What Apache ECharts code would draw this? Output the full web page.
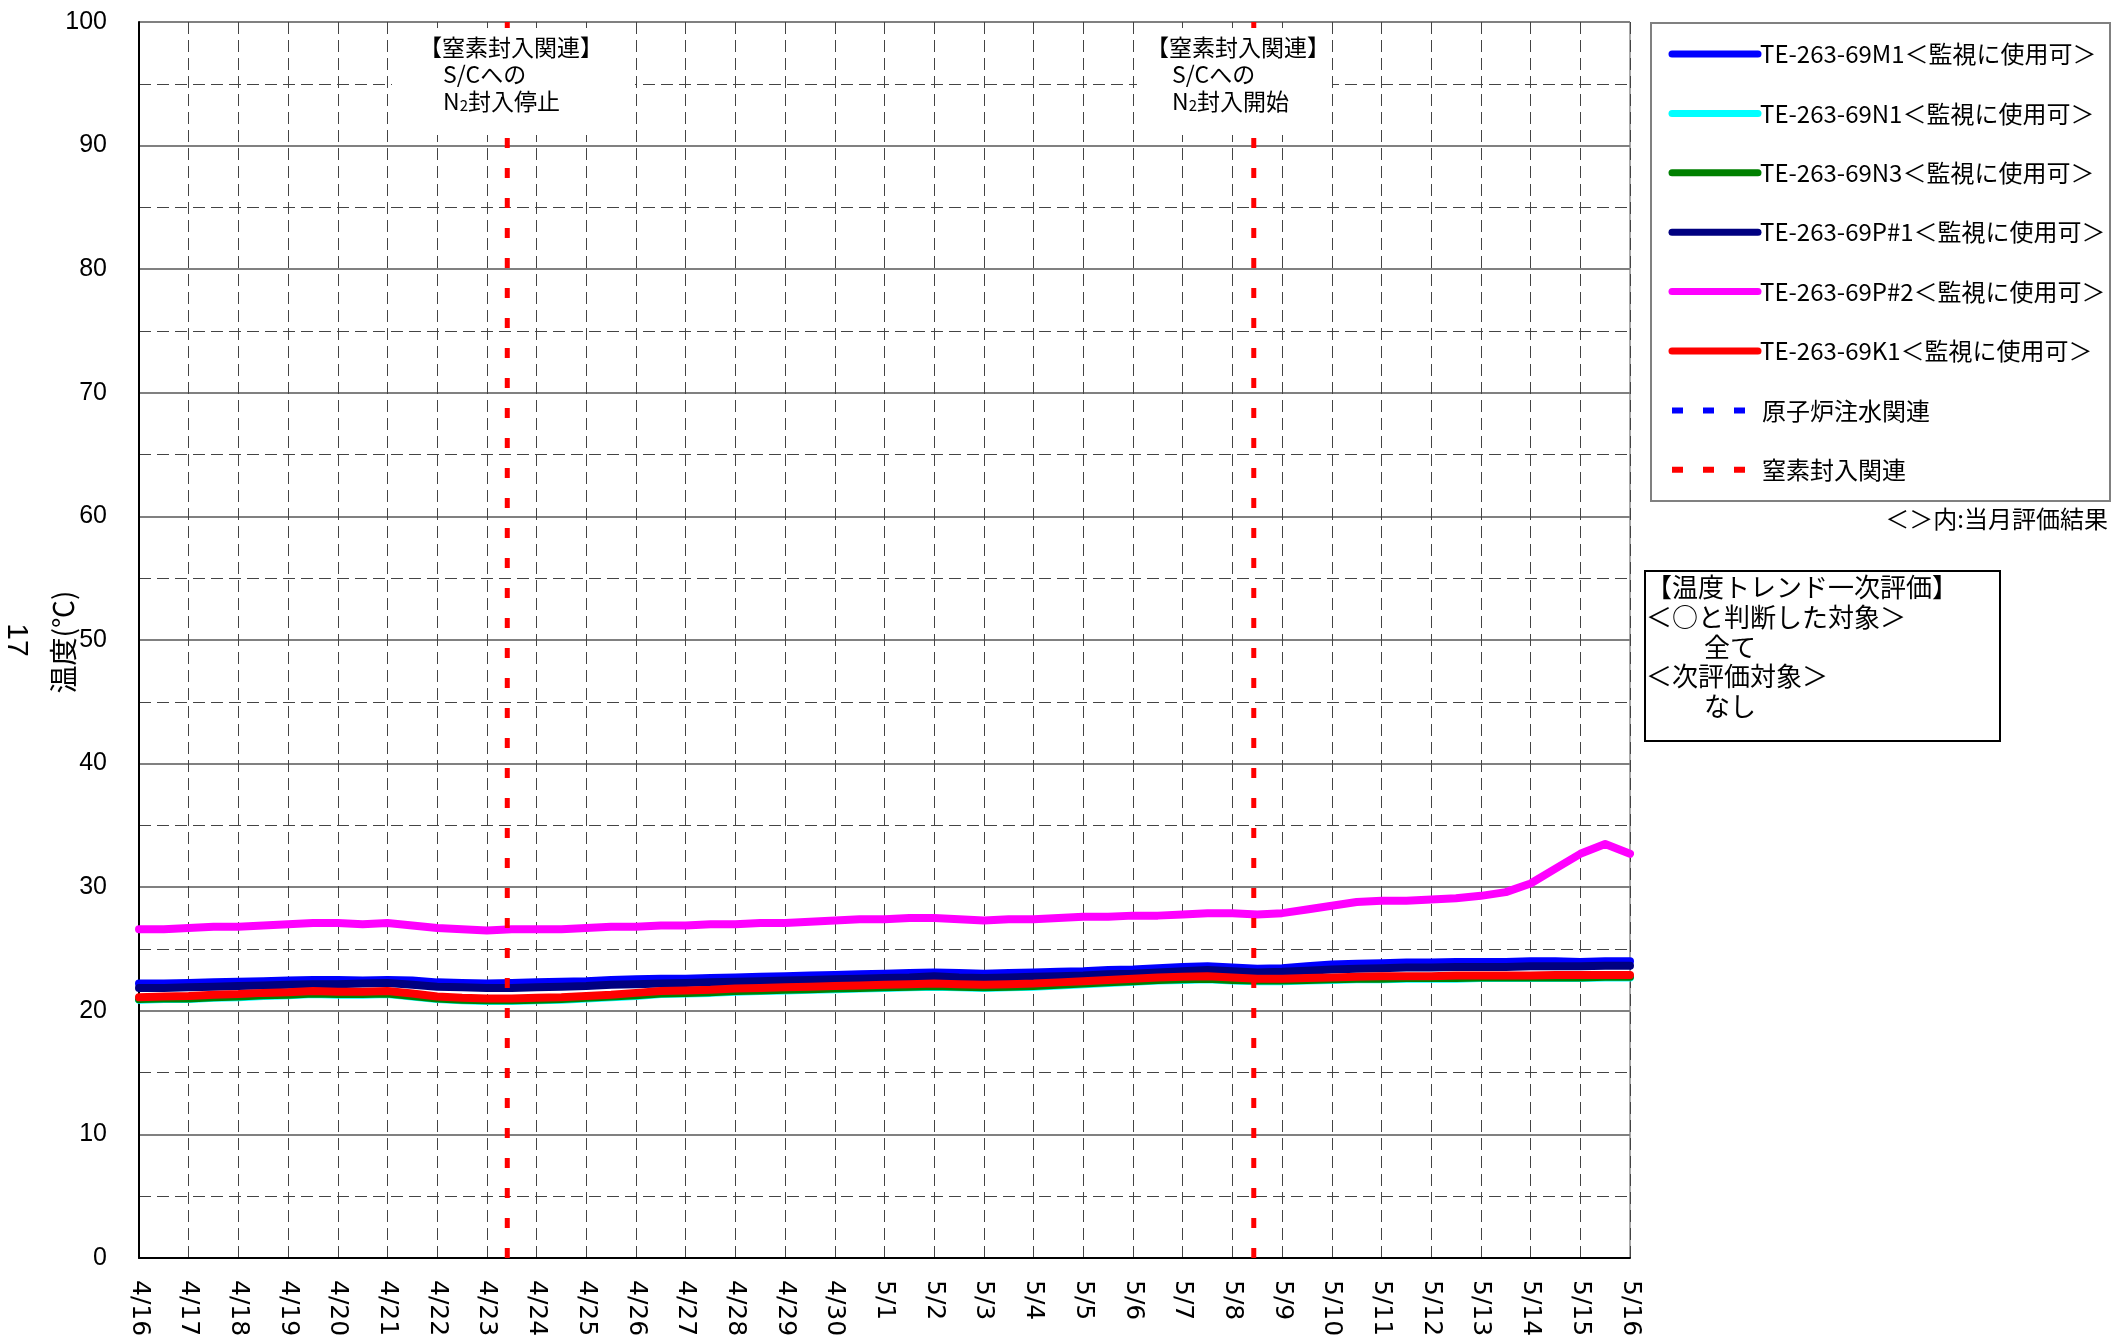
<!DOCTYPE html>
<html>

	<head>
		<meta charset="UTF-8">
		<title>温度トレンド</title>
		<script src="https://cdn.jsdelivr.net/npm/echarts@6/dist/echarts.min.js"></script>
		<style>
			html,
			body {
				margin: 0;
				padding: 0;
				background: #fff;
			}
			
			#main {
				width: 2112px;
				height: 1343px;
			}
		</style>
	</head>

	<body>
		<div id="main"></div>
		<script type="text/javascript">
			// 横軸ラベル（4/16 0:00 = 0日目）
			var dayLabels = ['4/16', '4/17', '4/18', '4/19', '4/20', '4/21', '4/22', '4/23', '4/24', '4/25', '4/26', '4/27', '4/28', '4/29', '4/30',
				'5/1', '5/2', '5/3', '5/4', '5/5', '5/6', '5/7', '5/8', '5/9', '5/10', '5/11', '5/12', '5/13', '5/14', '5/15', '5/16'
			];
			// サンプル時刻（日数、12時間毎）
			var sampleDays = [0, 0.5, 1, 1.5, 2, 2.5, 3, 3.5, 4, 4.5, 5, 5.5, 6, 6.5, 7, 7.5, 8, 8.5, 9, 9.5,
				10, 10.5, 11, 11.5, 12, 12.5, 13, 13.5, 14, 14.5, 15, 15.5, 16, 16.5, 17, 17.5, 18, 18.5, 19, 19.5,
				20, 20.5, 21, 21.5, 22, 22.5, 23, 23.5, 24, 24.5, 25, 25.5, 26, 26.5, 27, 27.5, 28, 28.5, 29, 29.5, 30
			];
			var tempM1 = [22.2, 22.2, 22.25, 22.3, 22.35, 22.4, 22.45, 22.5, 22.5, 22.45, 22.5, 22.45, 22.3, 22.25, 22.2, 22.25, 22.3, 22.35, 22.4, 22.5,
				22.55, 22.6, 22.6, 22.65, 22.7, 22.75, 22.8, 22.85, 22.9, 22.95, 23.0, 23.05, 23.1, 23.05, 23.0, 23.05, 23.1, 23.15, 23.2, 23.3,
				23.35, 23.45, 23.55, 23.6, 23.5, 23.4, 23.45, 23.6, 23.75, 23.8, 23.85, 23.9, 23.9, 23.95, 23.95, 23.95, 24.0, 24.0, 23.95, 24.0, 24.0
			];
			var tempN1 = [20.9, 20.95, 20.95, 21.05, 21.1, 21.2, 21.25, 21.35, 21.3, 21.3, 21.35, 21.15, 20.95, 20.85, 20.8, 20.8, 20.85, 20.9, 21.0, 21.1,
				21.2, 21.35, 21.4, 21.45, 21.55, 21.6, 21.65, 21.7, 21.75, 21.8, 21.85, 21.9, 21.95, 21.9, 21.85, 21.9, 21.95, 22.05, 22.15, 22.25,
				22.35, 22.45, 22.5, 22.55, 22.45, 22.4, 22.4, 22.45, 22.5, 22.55, 22.55, 22.6, 22.6, 22.6, 22.65, 22.65, 22.65, 22.65, 22.65, 22.7, 22.7
			];
			var tempN3 = [20.95, 21.0, 21.0, 21.1, 21.15, 21.25, 21.3, 21.4, 21.35, 21.35, 21.4, 21.2, 21.0, 20.9, 20.85, 20.85, 20.9, 20.95, 21.05, 21.15,
				21.25, 21.4, 21.45, 21.5, 21.6, 21.65, 21.7, 21.75, 21.8, 21.85, 21.9, 21.95, 22.0, 21.95, 21.9, 21.95, 22.0, 22.1, 22.2, 22.3,
				22.4, 22.5, 22.55, 22.6, 22.5, 22.45, 22.45, 22.5, 22.55, 22.6, 22.6, 22.65, 22.65, 22.65, 22.7, 22.7, 22.7, 22.7, 22.7, 22.75, 22.75
			];
			var tempP1 = [21.85, 21.85, 21.9, 21.95, 22.0, 22.05, 22.1, 22.15, 22.15, 22.2, 22.25, 22.1, 21.95, 21.9, 21.85, 21.85, 21.9, 21.95, 22.0, 22.1,
				22.15, 22.2, 22.25, 22.3, 22.35, 22.4, 22.45, 22.5, 22.55, 22.6, 22.65, 22.7, 22.8, 22.7, 22.65, 22.7, 22.75, 22.8, 22.85, 22.95,
				23.0, 23.1, 23.2, 23.3, 23.2, 23.1, 23.15, 23.25, 23.35, 23.4, 23.45, 23.5, 23.5, 23.55, 23.55, 23.55, 23.6, 23.6, 23.6, 23.65, 23.65
			];
			var tempP2 = [26.6, 26.6, 26.7, 26.8, 26.8, 26.9, 27.0, 27.1, 27.1, 27.0, 27.1, 26.9, 26.7, 26.6, 26.5, 26.6, 26.6, 26.6, 26.7, 26.8,
				26.8, 26.9, 26.9, 27.0, 27.0, 27.1, 27.1, 27.2, 27.3, 27.4, 27.4, 27.5, 27.5, 27.4, 27.3, 27.4, 27.4, 27.5, 27.6, 27.6,
				27.7, 27.7, 27.8, 27.9, 27.9, 27.8, 27.9, 28.2, 28.5, 28.8, 28.9, 28.9, 29.0, 29.1, 29.3, 29.6, 30.3, 31.5, 32.7, 33.5, 32.7
			];
			var tempK1 = [21.1, 21.15, 21.2, 21.3, 21.35, 21.45, 21.5, 21.6, 21.55, 21.55, 21.6, 21.4, 21.15, 21.05, 21.0, 21.0, 21.05, 21.1, 21.2, 21.3,
				21.45, 21.6, 21.65, 21.7, 21.8, 21.85, 21.9, 21.95, 22.0, 22.05, 22.1, 22.15, 22.2, 22.15, 22.1, 22.15, 22.2, 22.3, 22.4, 22.5,
				22.6, 22.7, 22.75, 22.8, 22.7, 22.6, 22.6, 22.65, 22.7, 22.75, 22.8, 22.8, 22.8, 22.85, 22.85, 22.85, 22.85, 22.9, 22.9, 22.9, 22.9
			];
			// 窒素封入関連イベント（日数）
			var n2Events = [7.41, 22.43];

			var seriesNames = ['TE-263-69M1＜監視に使用可＞', 'TE-263-69N1＜監視に使用可＞', 'TE-263-69N3＜監視に使用可＞',
				'TE-263-69P#1＜監視に使用可＞', 'TE-263-69P#2＜監視に使用可＞', 'TE-263-69K1＜監視に使用可＞'
			];
			var seriesColors = ['#0000ff', '#00ffff', '#008000', '#000080', '#ff00ff', '#ff0000'];
			var seriesValues = [tempM1, tempN1, tempN3, tempP1, tempP2, tempK1];

			var jpFont = '"Noto Sans CJK JP", "Noto Sans", sans-serif';
			var numFont = '"Liberation Sans", Arial, sans-serif';

			function pairs(vals) {
				var out = [];
				for(var i = 0; i < vals.length; i++) {
					out.push([sampleDays[i], vals[i]]);
				}
				return out;
			}

			var series = [];
			for(var s = 0; s < seriesValues.length; s++) {
				series.push({
					name: seriesNames[s],
					type: 'line',
					data: pairs(seriesValues[s]),
					symbol: 'none',
					smooth: false,
					lineStyle: {
						color: seriesColors[s],
						width: 8,
						cap: 'round',
						join: 'round'
					},
					z: 3
				});
			}
			// 窒素封入関連の縦線
			for(var e = 0; e < n2Events.length; e++) {
				series.push({
					name: '窒素封入関連',
					type: 'line',
					data: [
						[n2Events[e], 0],
						[n2Events[e], 100]
					],
					symbol: 'none',
					lineStyle: {
						color: '#ff0000',
						width: 5,
						type: [10, 20],
						cap: 'butt'
					},
					z: 4
				});
			}

			var graphics = [];
			// 注記ボックス
			function noteBox(x, w, cx, lx, last) {
				graphics.push({
					type: 'rect',
					z: 100,
					shape: { x: x, y: 28, width: w, height: 107 },
					style: { fill: '#fff' }
				});
				graphics.push({
					type: 'text',
					z: 101,
					x: cx,
					y: 47,
					style: { text: '【窒素封入関連】', font: '23px ' + jpFont, fill: '#000', align: 'center', verticalAlign: 'middle' }
				});
				graphics.push({
					type: 'text',
					z: 101,
					x: lx,
					y: 74,
					style: { text: 'S/Cへの', font: '23px ' + jpFont, fill: '#000', align: 'left', verticalAlign: 'middle' }
				});
				graphics.push({
					type: 'text',
					z: 101,
					x: lx,
					y: 101,
					style: {
						text: 'N{sub|2}' + last,
						font: '23px ' + jpFont,
						fill: '#000',
						align: 'left',
						verticalAlign: 'middle',
						rich: {
							sub: { fontSize: 15, fontFamily: jpFont, verticalAlign: 'bottom', padding: [9, 0, 0, 0] }
						}
					}
				});
			}
			noteBox(392, 243, 511, 443, '封入停止');
			noteBox(1137, 195, 1238, 1172, '封入開始');

			// 凡例
			graphics.push({
				type: 'rect',
				z: 100,
				shape: { x: 1651, y: 23, width: 459, height: 478 },
				style: { fill: '#fff', stroke: '#808080', lineWidth: 2 }
			});
			var legendNames = seriesNames.concat(['原子炉注水関連', '窒素封入関連']);
			var legendColors = seriesColors.concat(['#0000ff', '#ff0000']);
			for(var k = 0; k < legendNames.length; k++) {
				var ly = 54 + k * 59.4;
				var dashed = k >= seriesNames.length;
				graphics.push({
					type: 'line',
					z: 101,
					shape: { x1: 1672, y1: ly, x2: dashed ? 1745 : 1758, y2: ly },
					style: {
						stroke: legendColors[k],
						lineWidth: dashed ? 6 : 7,
						lineCap: dashed ? 'butt' : 'round',
						lineDash: dashed ? [11, 20] : null
					}
				});
				graphics.push({
					type: 'text',
					z: 101,
					x: dashed ? 1762 : 1760,
					y: ly,
					style: { text: legendNames[k], font: '24px ' + jpFont, fill: '#000', align: 'left', verticalAlign: 'middle' }
				});
			}
			graphics.push({
				type: 'text',
				z: 101,
				x: 2108,
				y: 519,
				style: { text: '＜＞内:当月評価結果', font: '24px ' + jpFont, fill: '#000', align: 'right', verticalAlign: 'middle' }
			});

			// 評価ボックス
			graphics.push({
				type: 'rect',
				z: 100,
				shape: { x: 1645, y: 571, width: 355, height: 170 },
				style: { fill: '#fff', stroke: '#000', lineWidth: 2 }
			});
			var evalLines = ['【温度トレンド一次評価】', '＜○と判断した対象＞', '全て', '＜次評価対象＞', 'なし'];
			var evalY = [587, 617, 647, 676, 706];
			var evalX = [1646, 1646, 1704, 1646, 1704];
			for(var j = 0; j < evalLines.length; j++) {
				graphics.push({
					type: 'text',
					z: 101,
					x: evalX[j],
					y: evalY[j],
					style: { text: evalLines[j], font: '26px ' + jpFont, fill: '#000', align: 'left', verticalAlign: 'middle' }
				});
			}

			// 縦軸タイトル
			graphics.push({
				type: 'text',
				z: 101,
				x: 63,
				y: 642,
				rotation: Math.PI / 2,
				style: { text: '温度(℃)', font: '28px ' + jpFont, fill: '#000', align: 'center', verticalAlign: 'middle' }
			});
			graphics.push({
				type: 'text',
				z: 101,
				x: 16,
				y: 640,
				rotation: -Math.PI / 2,
				style: { text: '17', font: '30px ' + numFont, fill: '#000', align: 'center', verticalAlign: 'middle' }
			});

			var chart = echarts.init(document.getElementById('main'), null, { renderer: 'canvas' });
			chart.setOption({
				animation: false,
				backgroundColor: '#fff',
				grid: {
					left: 139,
					top: 22,
					width: 1491,
					height: 1236,
					show: true,
					borderColor: '#555',
					borderWidth: 1,
					backgroundColor: 'transparent'
				},
				xAxis: {
					type: 'value',
					min: 0,
					max: 30,
					interval: 1,
					axisLine: { show: true, onZero: false, lineStyle: { color: '#000', width: 2 } },
					axisTick: { show: false },
					axisLabel: {
						rotate: -90,
						margin: 22,
						fontSize: 25,
						fontFamily: '"DejaVu Sans", sans-serif',
						color: '#000',
						showMinLabel: true,
						showMaxLabel: true,
						formatter: function(v) {
							return dayLabels[Math.round(v)];
						}
					},
					splitLine: { show: true, lineStyle: { color: '#444', width: 1, type: [12, 6] } }
				},
				yAxis: {
					type: 'value',
					min: 0,
					max: 100,
					interval: 10,
					axisLine: { show: true, lineStyle: { color: '#000', width: 2 } },
					axisTick: { show: false },
					axisLabel: {
						margin: 32,
						fontSize: 25,
						fontFamily: numFont,
						color: '#000'
					},
					splitLine: { show: true, lineStyle: { color: '#808080', width: 2 } },
					minorTick: { show: false, splitNumber: 2 },
					minorSplitLine: { show: true, lineStyle: { color: '#444', width: 1, type: [12, 6] } }
				},
				series: series,
				graphic: graphics
			});
		</script>
	</body>

</html>
